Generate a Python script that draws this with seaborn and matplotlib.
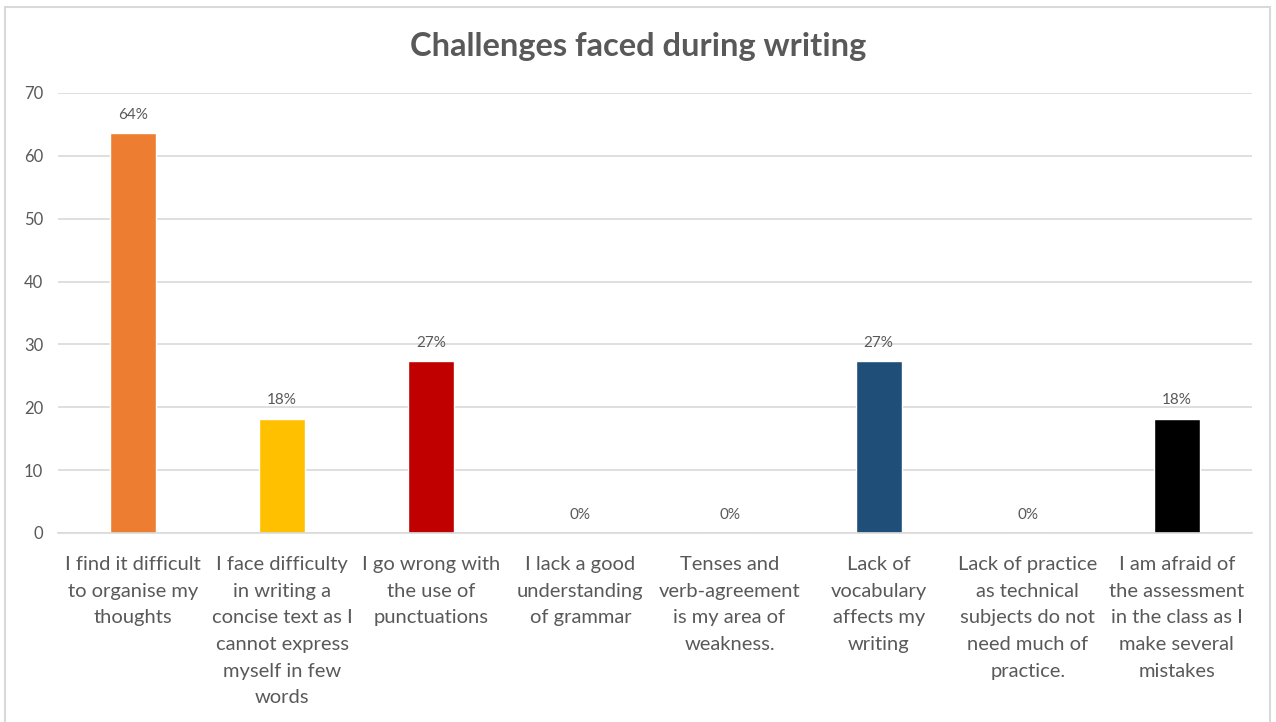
import matplotlib
matplotlib.use("Agg")
import matplotlib.pyplot as plt
import seaborn as sns
import pandas as pd
from matplotlib.patches import Rectangle

categories = [
    "I find it difficult\nto organise my\nthoughts",
    "I face difficulty\nin writing a\nconcise text as I\ncannot express\nmyself in few\nwords",
    "I go wrong with\nthe use of\npunctuations",
    "I lack a good\nunderstanding\nof grammar",
    "Tenses and\nverb-agreement\nis my area of\nweakness.",
    "Lack of\nvocabulary\naffects my\nwriting",
    "Lack of practice\nas technical\nsubjects do not\nneed much of\npractice.",
    "I am afraid of\nthe assessment\nin the class as I\nmake several\nmistakes",
]
values = [63.6, 18.2, 27.3, 0, 0, 27.3, 0, 18.2]
colors = ["#ED7D31", "#FFC000", "#C00000", "#A5A5A5", "#4472C4", "#1F4E79", "#70AD47", "#000000"]

sns.set_theme(style="white")
plt.rcParams["font.family"] = ["Lato", "DejaVu Sans"]

df = pd.DataFrame({"cat": categories, "val": values})

fig = plt.figure(figsize=(12.76, 7.22), dpi=100)
ax = fig.add_axes([0.0458, 0.2618, 0.935, 0.6094])
sns.barplot(data=df, x="cat", y="val", hue="cat", palette=colors, legend=False,
            width=0.31, ax=ax, saturation=1)

ax.set_ylim(0, 70)
ax.set_yticks(range(0, 71, 10))
ax.set_xlim(-0.5, len(categories) - 0.5)
ax.yaxis.grid(True, color="#d9d9d9", linewidth=1.2)
ax.set_axisbelow(True)
for s in ["top", "right", "left"]:
    ax.spines[s].set_visible(False)
ax.spines["bottom"].set_color("#d9d9d9")
ax.spines["bottom"].set_linewidth(1.2)
ax.set_xlabel("")
ax.set_ylabel("")
ax.tick_params(axis="y", labelsize=12, labelcolor="#595959", length=0, pad=11)
ax.tick_params(axis="x", labelsize=14.5, labelcolor="#595959", length=0, pad=16.5)
for lab in ax.get_xticklabels():
    lab.set_linespacing(1.69)
    lab.set_ha("center")

for cont in ax.containers:
    ax.bar_label(cont, labels=[f"{round(b.get_height())}%" for b in cont],
                 padding=8, fontsize=11, color="#595959")

fig.text(0.5, 0.936, "Challenges faced during writing", ha="center", va="center",
         fontsize=23.5, color="#595959", fontweight="bold")

fig.patches.append(Rectangle((0.004, -0.01), 0.991, 1.0, transform=fig.transFigure,
                             fill=False, edgecolor="#d9d9d9", linewidth=1.5))

fig.savefig("out.png", dpi=100)
